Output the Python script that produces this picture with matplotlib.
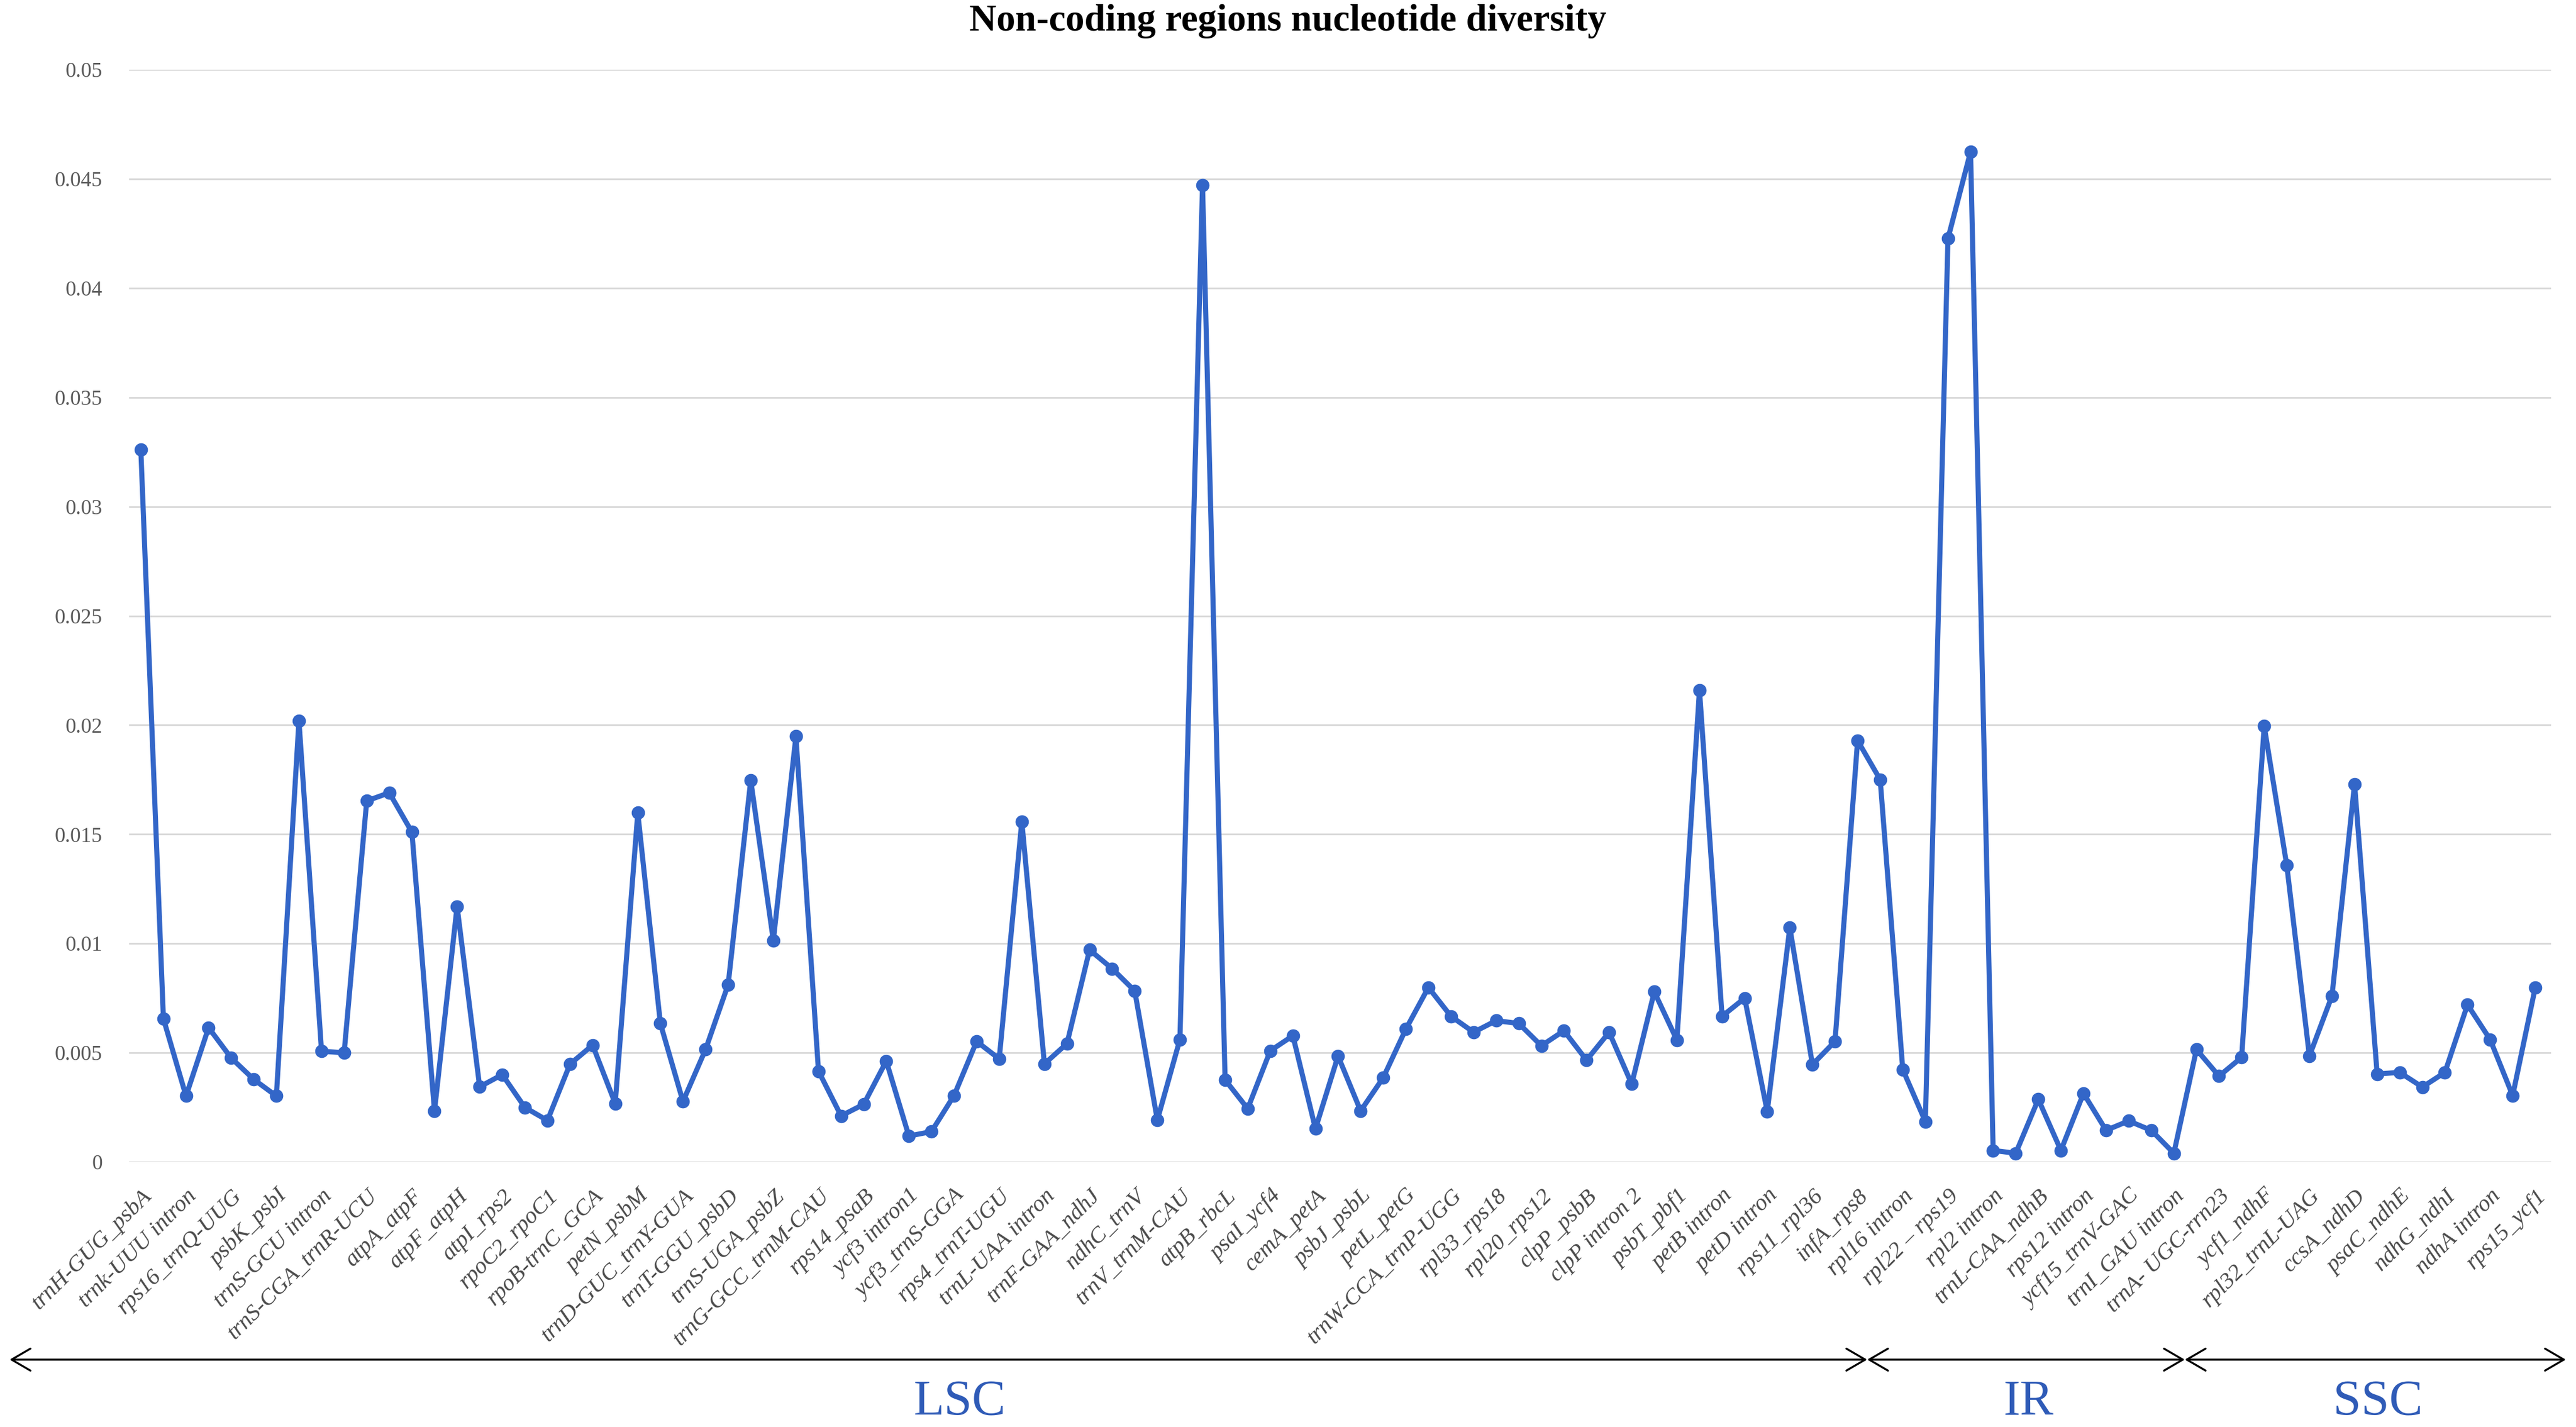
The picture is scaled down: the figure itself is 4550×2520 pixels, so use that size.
import matplotlib
matplotlib.use("Agg")
import matplotlib.pyplot as plt
from matplotlib.patches import FancyArrowPatch

# ---------------- data ----------------
values = [
    0.0326, 0.00656, 0.00302, 0.00615, 0.00476, 0.00378, 0.00302, 0.0202, 0.00507, 0.0050,
    0.01653, 0.0169, 0.0151, 0.00233, 0.0117, 0.00344, 0.0040, 0.0025, 0.0019, 0.00448,
    0.00535, 0.00268, 0.01598, 0.00634, 0.00277, 0.00515, 0.00812, 0.01747, 0.01014, 0.01948,
    0.00416, 0.00211, 0.00264, 0.00462, 0.00119, 0.00139, 0.00304, 0.00552, 0.00472, 0.01559,
    0.00449, 0.00542, 0.00971, 0.00885, 0.00783, 0.00192, 0.00561, 0.04472, 0.00376, 0.00244,
    0.00509, 0.00578, 0.00152, 0.00485, 0.00234, 0.00386, 0.00608, 0.00799, 0.00667, 0.00594,
    0.00647, 0.00634, 0.00532, 0.00601, 0.00466, 0.00594, 0.00357, 0.00779, 0.00558, 0.0216,
    0.00667, 0.0075, 0.00231, 0.01073, 0.00446, 0.00552, 0.01929, 0.0175, 0.00423, 0.00185,
    0.04227, 0.04624, 0.00053, 0.0004, 0.00287, 0.00053, 0.00314, 0.00145, 0.00188, 0.00145,
    0.0004, 0.00515, 0.00393, 0.00479, 0.01995, 0.01357, 0.00485, 0.0076, 0.0173, 0.00403,
    0.0041, 0.00343, 0.0041, 0.0072, 0.00561, 0.00304, 0.00799,
]

tick_labels = [
    "trnH-GUG_psbA", "trnk-UUU intron", "rps16_trnQ-UUG", "psbK_psbI", "trnS-GCU intron",
    "trnS-CGA_trnR-UCU", "atpA_atpF", "atpF_atpH", "atpI_rps2", "rpoC2_rpoC1",
    "rpoB-trnC_GCA", "petN_psbM", "trnD-GUC_trnY-GUA", "trnT-GGU_psbD", "trnS-UGA_psbZ",
    "trnG-GCC_trnM-CAU", "rps14_psaB", "ycf3 intron1", "ycf3_trnS-GGA", "rps4_trnT-UGU",
    "trnL-UAA intron", "trnF-GAA_ndhJ", "ndhC_trnV", "trnV_trnM-CAU", "atpB_rbcL",
    "psaI_ycf4", "cemA_petA", "psbJ_psbL", "petL_petG", "trnW-CCA_trnP-UGG",
    "rpl33_rps18", "rpl20_rps12", "clpP_psbB", "clpP intron 2", "psbT_pbf1",
    "petB intron", "petD intron", "rps11_rpl36", "infA_rps8", "rpl16 intron",
    "rpl22 \u2013 rps19", "rpl2 intron", "trnL-CAA_ndhB", "rps12 intron", "ycf15_trnV-GAC",
    "trnI_GAU intron", "trnA- UGC-rrn23", "ycf1_ndhF", "rpl32_trnL-UAG", "ccsA_ndhD",
    "psaC_ndhE", "ndhG_ndhI", "ndhA intron", "rps15_ycf1",
]

y_ticks = [0, 0.005, 0.01, 0.015, 0.02, 0.025, 0.03, 0.035, 0.04, 0.045, 0.05]
y_tick_labels = ["0", "0.005", "0.01", "0.015", "0.02", "0.025", "0.03", "0.035", "0.04", "0.045", "0.05"]

regions = ["LSC", "IR", "SSC"]

title = "Non-coding regions nucleotide diversity"

# ---------------- figure ----------------
plt.rcParams['font.family'] = ['Liberation Serif', 'DejaVu Serif']
W, H, DPI = 4550, 2520, 100
fig = plt.figure(figsize=(W / DPI, H / DPI), dpi=DPI)
fig.patch.set_facecolor("white")

ax = fig.add_axes([228 / W, 1 - 2052 / H, (4506 - 228) / W, (2052 - 123) / H])

x = list(range(len(values)))
blue = "#3366C8"
ax.plot(x, values, color=blue, lw=6.5, marker="o", markersize=16,
        markerfacecolor=blue, markeredgecolor=blue, zorder=3,
        solid_joinstyle="round", solid_capstyle="round")

ax.set_ylim(0, 0.05)
ax.set_xlim(-0.52, 106.7)
ax.set_yticks(y_ticks)
ax.set_yticklabels(y_tick_labels, color="#595959", fontsize=27)
ax.yaxis.grid(True, color="#D9D9D9", lw=2.2)
ax.set_axisbelow(True)
for s in ax.spines.values():
    s.set_visible(False)
ax.tick_params(axis="y", length=0, pad=34)

ax.set_xticks(x[::2])
ax.set_xticklabels(tick_labels, rotation=45, ha="right", va="top",
                   rotation_mode="anchor", style="italic", color="#4A4A4A", fontsize=29.5)
ax.tick_params(axis="x", length=0, pad=30)

fig.text(0.5, 1 - 38 / H, title, ha="center", va="center",
         fontsize=48, fontweight="bold", color="black")

# ---------------- region arrows ----------------
bounds = [17 / W, 3298 / W, 3859 / W, 4532 / W]
label_x = [1695 / W, 3583 / W, 4200 / W]
y_arrow = 1 - 2401 / H
for i, name in enumerate(regions):
    a = FancyArrowPatch((bounds[i], y_arrow), (bounds[i + 1], y_arrow),
                        transform=fig.transFigure,
                        arrowstyle="<->,head_length=0.6,head_width=0.35",
                        mutation_scale=40, lw=2.5, color="black",
                        shrinkA=0, shrinkB=0)
    fig.patches.append(a)
    fig.text(label_x[i], 1 - 2476 / H, name,
             ha="center", va="center", fontsize=64, color="#2F5BB7")

fig.savefig("out.png", dpi=DPI, facecolor="white")
